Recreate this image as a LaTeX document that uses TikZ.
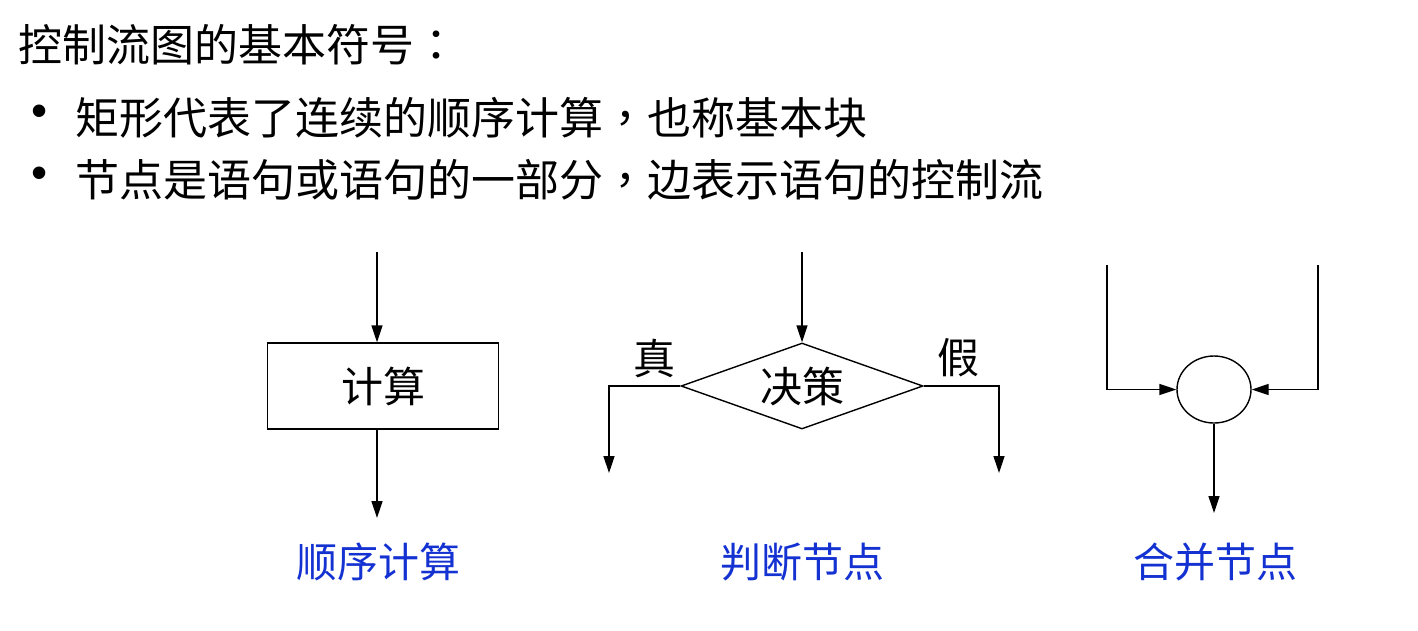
\documentclass[tikz,border=0pt]{standalone}
\usepackage{fontspec}
\setmainfont{Noto Sans CJK SC}
\newfontfamily\puncfont{Noto Sans CJK TC}
\newfontfamily\dotfont{Liberation Sans}
\newcommand{\cpunc}[1]{{\puncfont #1}}
\usetikzlibrary{arrows.meta,shapes.geometric}
\definecolor{labelblue}{HTML}{1432D2}
\tikzset{
  flow/.style={line width=1.4pt, -{Triangle[length=17pt,width=11pt]}},
  plain/.style={line width=1.4pt},
  cfgtext/.style={font=\fontsize{42}{50}\selectfont},
  caption/.style={font=\fontsize{41}{50}\selectfont, text=labelblue},
  headline/.style={font=\fontsize{44}{52}\selectfont, anchor=west, inner sep=0pt},
  bulletdot/.style={font=\dotfont\fontsize{46}{50}\selectfont, inner sep=0pt},
}

\begin{document}
\begin{tikzpicture}[x=1pt,y=-1pt]
\useasboundingbox (0,0) rectangle (1418,630);

% heading and the two bullet points
\node[headline] (title) at (18,45) {控制流图的基本符号\cpunc{：}};
\node[bulletdot] (dot1) at (40,116) {•};
\node[headline] (item1) at (75,118) {矩形代表了连续的顺序计算\cpunc{，}也称基本块};
\node[bulletdot] (dot2) at (40,178) {•};
\node[headline] (item2) at (75,180) {节点是语句或语句的一部分\cpunc{，}边表示语句的控制流};

% sequence
\coordinate (seqin) at (377,252);
\coordinate (seqout) at (377,518);
\node[draw, plain, cfgtext, minimum width=231pt, minimum height=86pt, inner sep=0pt] (calc) at (383,386) {计算};
\draw[flow] (seqin) -- (seqin |- calc.north);
\draw[flow] (seqin |- calc.south) -- (seqout);
\node[caption] (seqcap) at (378,562) {顺序计算};

% decision
\coordinate (decin) at (802,252);
\coordinate (trueout) at (609,473);
\coordinate (falseout) at (999,473);
\node[draw, plain, cfgtext, diamond, aspect=2.8, minimum width=242pt, minimum height=86pt, inner sep=0pt] (decide) at (802,386) {决策};
\draw[flow] (decin) -- (decide.north);
\draw[flow] (decide.west) -| (trueout);
\draw[flow] (decide.east) -| (falseout);
\node[cfgtext] (truelbl) at (654,358) {真};
\node[cfgtext] (falselbl) at (958,358) {假};
\node[caption] (deccap) at (802,562) {判断节点};

% merge
\coordinate (mergeL) at (1107,265);
\coordinate (mergeR) at (1318,265);
\coordinate (mergeout) at (1214,513);
\node[draw, plain, ellipse, minimum width=74pt, minimum height=67pt, inner sep=0pt] (merge) at (1214,389.5) {};
\draw[flow] (mergeL) |- (merge.west);
\draw[flow] (mergeR) |- (merge.east);
\draw[flow] (merge.south) -- (mergeout);
\node[caption] (mergecap) at (1215,562) {合并节点};
\end{tikzpicture}
\end{document}
